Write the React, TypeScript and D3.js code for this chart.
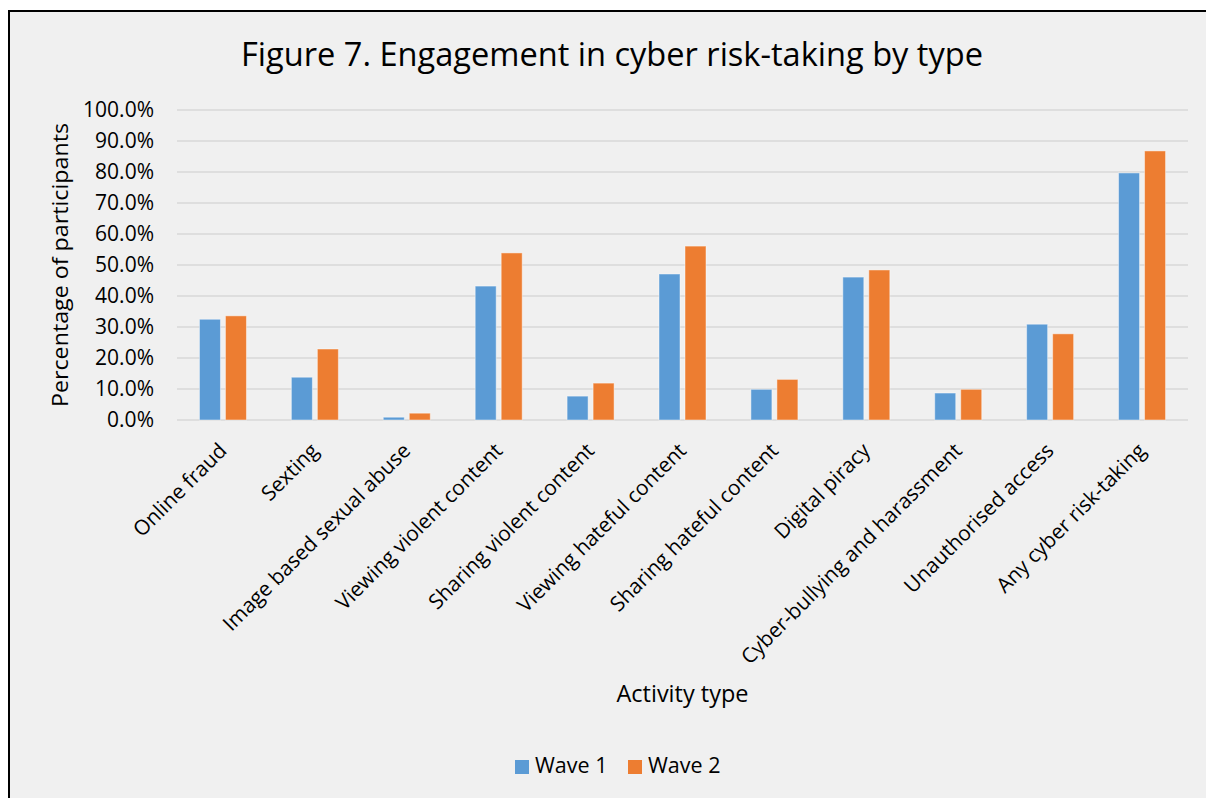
import React from "react";
import * as d3 from "d3";

const categories = [
  "Online fraud",
  "Sexting",
  "Image based sexual abuse",
  "Viewing violent content",
  "Sharing violent content",
  "Viewing hateful content",
  "Sharing hateful content",
  "Digital piracy",
  "Cyber-bullying and harassment",
  "Unauthorised access",
  "Any cyber risk-taking",
];
const seriesNames = ["Wave 1", "Wave 2"];
const wave1 = [32.5, 13.8, 0.9, 43.2, 7.7, 47.1, 9.9, 46.1, 8.7, 30.9, 79.7];
const wave2 = [33.6, 22.9, 2.2, 53.9, 11.9, 56.1, 13.1, 48.4, 9.9, 27.8, 86.8];
const yTicks = [0, 10, 20, 30, 40, 50, 60, 70, 80, 90, 100];
const colors = ["#5B9BD5", "#ED7D31"];

const FONT = "'Open Sans', sans-serif";

export default function App() {
  const W = 1206;
  const H = 798;
  const left = 177;
  const right = 1188;
  const top = 110;
  const bottom = 420;

  const x0 = d3.scaleBand<string>().domain(categories).range([left, right]).padding(0);
  const x1 = d3
    .scaleBand<string>()
    .domain(seriesNames)
    .range([-23.5, 23.5])
    .paddingInner(0.1923)
    .paddingOuter(0);
  const y = d3.scaleLinear().domain([0, 100]).range([bottom, top]);
  const data = [wave1, wave2];
  const fmt = (v: number) => v.toFixed(1) + "%";

  return (
    <svg
      width={W}
      height={H}
      style={{ position: "absolute", left: 0, top: 0, display: "block" }}
      fontFamily={FONT}
    >
      <rect x={0} y={0} width={W} height={H} fill="#ffffff" />
      <rect x={9} y={11} width={1400} height={1000} fill="#f0f0f0" stroke="#000" strokeWidth={2} />

      <text
        x={612}
        y={66}
        textAnchor="middle"
        fontSize={33}
        fill="#000"
        textLength={742}
        lengthAdjust="spacingAndGlyphs"
      >
        Figure 7. Engagement in cyber risk-taking by type
      </text>

      {yTicks.map((t) => (
        <g key={t}>
          <line x1={left} x2={right} y1={y(t)} y2={y(t)} stroke="#d9d9d9" strokeWidth={1.5} />
          <text x={154} y={y(t)} dy="0.35em" textAnchor="end" fontSize={21} fill="#000">
            {fmt(t)}
          </text>
        </g>
      ))}

      {categories.map((c, i) => {
        const cx = (x0(c) as number) + x0.bandwidth() / 2;
        return (
          <g key={c}>
            {seriesNames.map((s, k) => {
              const v = data[k][i];
              return (
                <rect
                  key={s}
                  x={cx + (x1(s) as number)}
                  y={y(v)}
                  width={x1.bandwidth()}
                  height={bottom - y(v)}
                  fill={colors[k]}
                  stroke="#ffffff"
                  strokeOpacity={0.45}
                  strokeWidth={1}
                />
              );
            })}
            <text
              transform={`translate(${cx + 5},${452}) rotate(-45)`}
              textAnchor="end"
              fontSize={20.8}
              fill="#000"
            >
              {c}
            </text>
          </g>
        );
      })}

      <text
        transform={`translate(${68},${265}) rotate(-90)`}
        textAnchor="middle"
        fontSize={22}
        fill="#000"
        textLength={284}
        lengthAdjust="spacingAndGlyphs"
      >
        Percentage of participants
      </text>

      <text x={(left + right) / 2} y={702} textAnchor="middle" fontSize={23.5} fill="#000">
        Activity type
      </text>

      {seriesNames.map((s, k) => {
        const lx = [515, 628][k];
        return (
          <g key={s}>
            <rect x={lx} y={760} width={14} height={14} fill={colors[k]} />
            <text x={lx + 20} y={773} fontSize={21.5} fill="#000">
              {s}
            </text>
          </g>
        );
      })}
    </svg>
  );
}
